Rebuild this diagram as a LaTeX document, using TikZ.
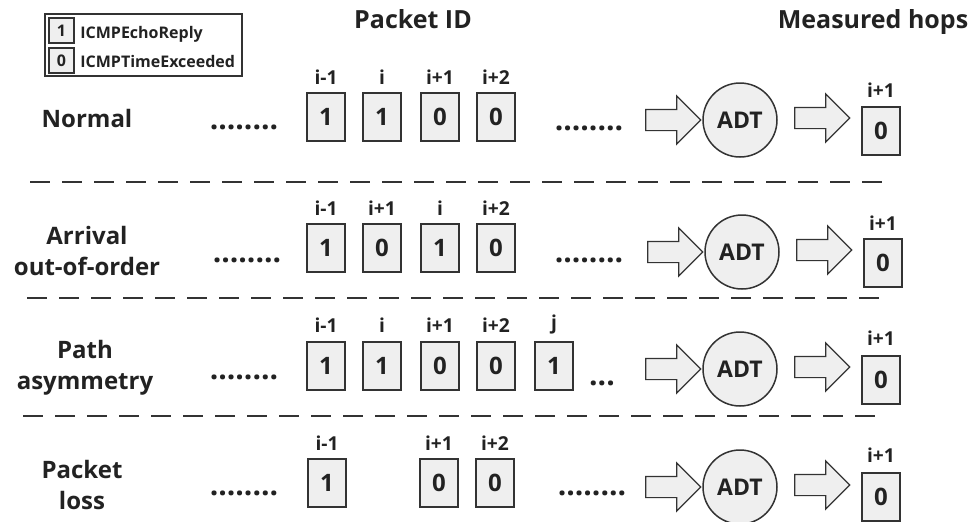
\documentclass[tikz,border=0pt]{standalone}
\usepackage{fontspec}
\setmainfont{Open Sans}
\usepackage{tikz}
\usepackage{xcolor}
\usetikzlibrary{shapes.arrows}

\definecolor{boxgray}{HTML}{EFEFEF}
\definecolor{linegray}{HTML}{333333}
\definecolor{txtgray}{HTML}{222222}

\begin{document}
\begin{tikzpicture}[x=0.5pt,y=-0.5pt,text=txtgray,
  pkt/.style={draw=linegray,fill=boxgray,line width=0.75pt,minimum width=19pt,minimum height=24pt,inner sep=0pt,font=\fontsize{12}{13}\selectfont\bfseries},
  keybox/.style={pkt,minimum width=12.5pt,minimum height=12.5pt,font=\fontsize{8}{9}\selectfont\bfseries},
  keytxt/.style={anchor=base west,inner sep=0pt,font=\fontsize{8}{9}\selectfont\bfseries},
  idlbl/.style={inner sep=0pt,font=\fontsize{9.6}{10}\selectfont\bfseries},
  head/.style={anchor=base,inner sep=0pt,font=\fontsize{12.5}{14}\selectfont\bfseries},
  rowlbl/.style={align=center,inner sep=0pt,font=\fontsize{12}{15.5}\selectfont\bfseries},
  dotrow/.style={inner sep=0pt,font=\fontsize{15}{15}\selectfont\bfseries},
  adt/.style={circle,draw=linegray,fill=boxgray,line width=0.75pt,minimum size=37pt,inner sep=0pt,font=\fontsize{11.5}{13}\selectfont\bfseries},
  blk/.style={single arrow,draw=linegray,fill=boxgray,line width=0.6pt,minimum height=27.5pt,single arrow head extend=6.75pt,inner xsep=0pt,inner ysep=5pt},
  sep/.style={draw=linegray,line width=1.4pt,dash pattern=on 10pt off 6pt}]
\useasboundingbox (0,0) rectangle (969,521);

% legend
\draw[draw=linegray,line width=0.75pt] (45,14) rectangle (242,76);
\node[keybox] (key1) at (61.5,30.5) {1};
\node[keybox] (key0) at (61.5,60.5) {0};
\node[keytxt] (keytxt1) at (80,38.5) {ICMPEchoReply};
\node[keytxt] (keytxt0) at (80,67) {ICMPTimeExceeded};

% column heads
\node[head] (pktid) at (413,28) {Packet ID};
\node[head] (meas) at (873,28) {Measured hops};

% separators
\draw[sep] (30,182) -- (892,182);
\draw[sep] (27,298) -- (890,298);
\draw[sep] (23,416) -- (883,416);

% row 1: normal
\node[rowlbl] (lblA) at (87,118) {Normal};
\node[dotrow] (dotsA) at (244,127) {........};
\node[idlbl] (idA1) at (326,77) {i-1};
\node[idlbl] (idA2) at (382,77) {i};
\node[idlbl] (idA3) at (440,77) {i+1};
\node[idlbl] (idA4) at (496,77) {i+2};
\node[pkt] (pA1) at (326,117) {1};
\node[pkt] (pA2) at (382,117) {1};
\node[pkt] (pA3) at (440,117) {0};
\node[pkt] (pA4) at (496,117) {0};
\node[dotrow] (moreA) at (589,128) {........};
\node[blk] (inA) at (668,120) {};
\node[adt] (adtA) at (740,120) {ADT};
\node[blk] (outA) at (817,118) {};
\node[idlbl] (hopA) at (881,90) {i+1};
\node[pkt] (resA) at (881,131) {0};

% row 2: arrival out-of-order
\node[rowlbl] (lblB) at (87,251) {Arrival\\out-of-order};
\node[dotrow] (dotsB) at (247,260) {........};
\node[idlbl] (idB1) at (326,208) {i-1};
\node[idlbl] (idB2) at (382,208) {i+1};
\node[idlbl] (idB3) at (440,208) {i};
\node[idlbl] (idB4) at (496,208) {i+2};
\node[pkt] (pB1) at (326,248) {1};
\node[pkt] (pB2) at (382,248) {0};
\node[pkt] (pB3) at (440,248) {1};
\node[pkt] (pB4) at (496,248) {0};
\node[dotrow] (moreB) at (589,260) {........};
\node[blk] (inB) at (670,252) {};
\node[adt] (adtB) at (742,252) {ADT};
\node[blk] (outB) at (819,250) {};
\node[idlbl] (hopB) at (883,223) {i+1};
\node[pkt] (resB) at (883,263) {0};

% row 3: path asymmetry
\node[rowlbl] (lblC) at (85,368) {Path\\asymmetry};
\node[dotrow] (dotsC) at (244,377) {........};
\node[idlbl] (idC1) at (326,325) {i-1};
\node[idlbl] (idC2) at (382,325) {i};
\node[idlbl] (idC3) at (440,325) {i+1};
\node[idlbl] (idC4) at (496,325) {i+2};
\node[idlbl] (idC5) at (554,325) {j};
\node[pkt] (pC1) at (326,366) {1};
\node[pkt] (pC2) at (382,366) {1};
\node[pkt] (pC3) at (440,366) {0};
\node[pkt] (pC4) at (496,366) {0};
\node[pkt] (pC5) at (554,366) {1};
\node[dotrow] (moreC) at (602,383) {...};
\node[blk] (inC) at (668,369) {};
\node[adt] (adtC) at (740,369) {ADT};
\node[blk] (outC) at (817,367) {};
\node[idlbl] (hopC) at (881,338) {i+1};
\node[pkt] (resC) at (881,380) {0};

% row 4: packet loss
\node[rowlbl] (lblD) at (82,485) {Packet\\loss};
\node[dotrow] (dotsD) at (244,493) {........};
\node[idlbl] (idD1) at (327,443) {i-1};
\node[idlbl] (idD3) at (439,443) {i+1};
\node[idlbl] (idD4) at (495,443) {i+2};
\node[pkt] (pD1) at (327,483) {1};
\node[pkt] (pD3) at (439,483) {0};
\node[pkt] (pD4) at (495,483) {0};
\node[dotrow] (moreD) at (592,493) {........};
\node[blk] (inD) at (668,487) {};
\node[adt] (adtD) at (740,487) {ADT};
\node[blk] (outD) at (817,485) {};
\node[idlbl] (hopD) at (881,455) {i+1};
\node[pkt] (resD) at (881,497) {0};
\end{tikzpicture}
\end{document}
